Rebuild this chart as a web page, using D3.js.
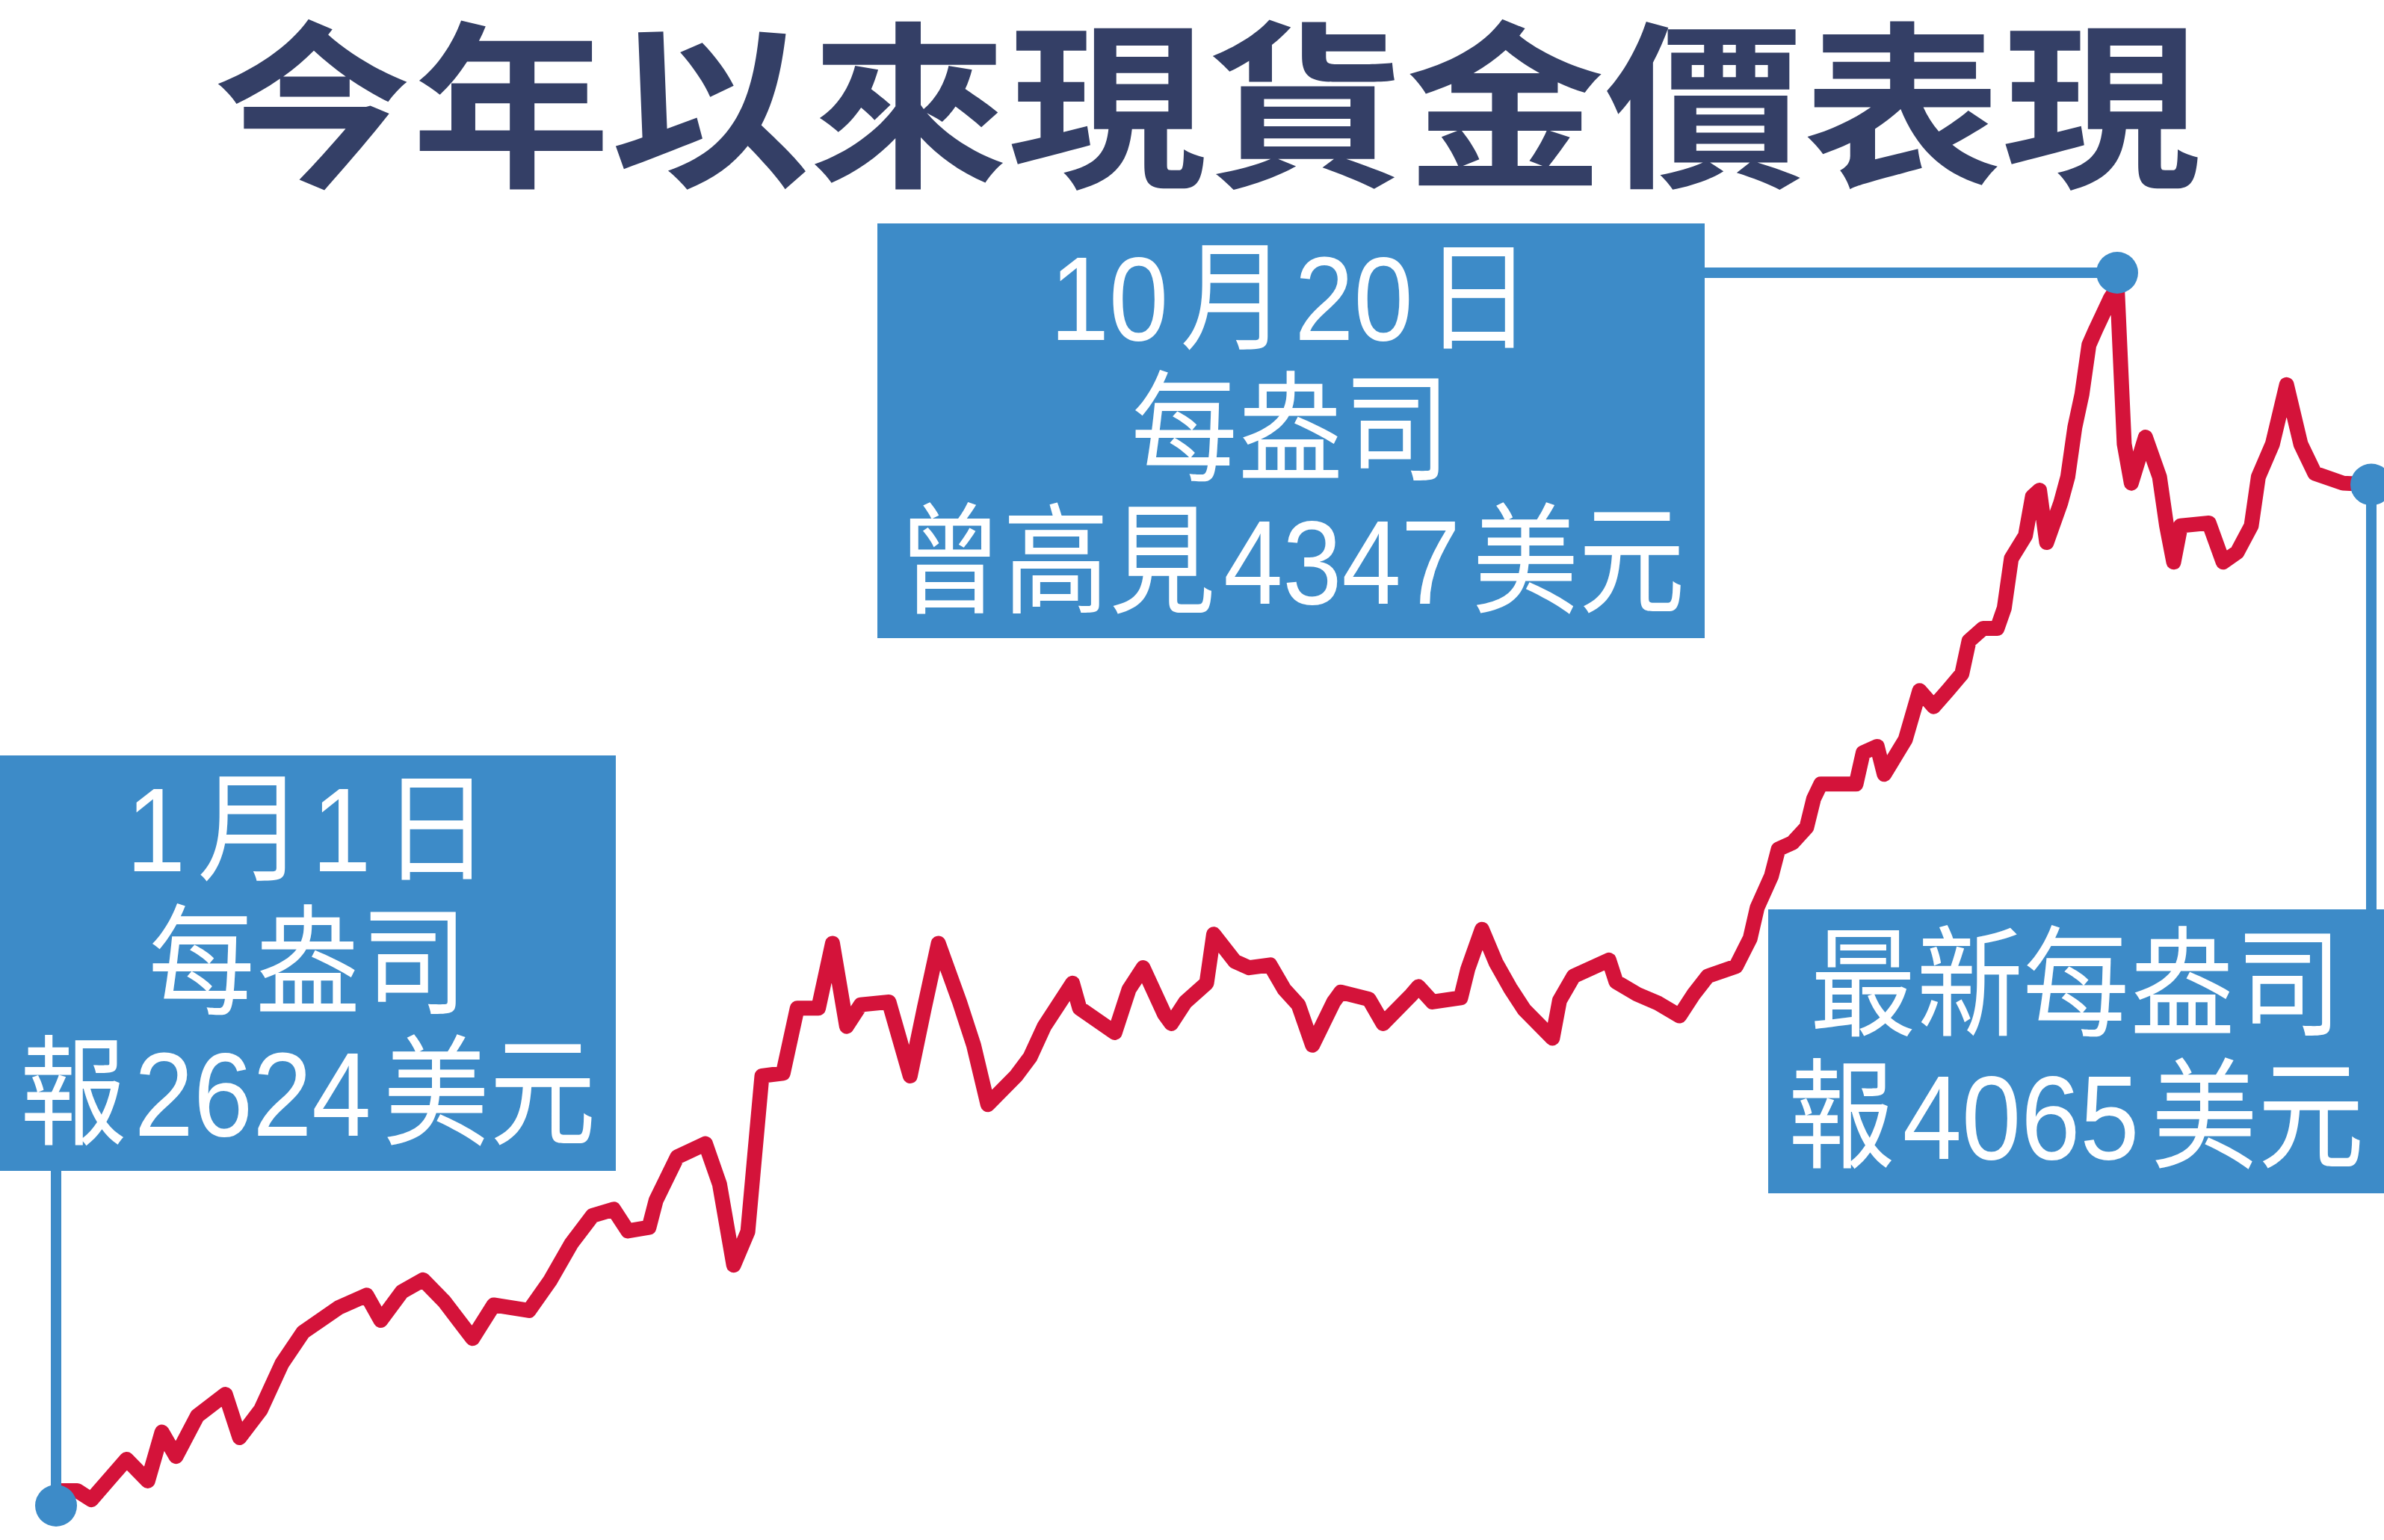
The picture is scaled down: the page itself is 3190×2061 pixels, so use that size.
<!DOCTYPE html>
<html>
<head>
<meta charset="utf-8">
<script src="https://cdn.jsdelivr.net/npm/d3@7"></script>
<style>
  html, body { margin: 0; padding: 0; background: #fff; }
  svg { display: block; }
</style>
</head>
<body>
<svg id="canvas"></svg>
<script>
// spot gold this year, US$ per ounce
let year = 2025;
let dates = [
  '01-01','01-04','01-06','01-09','01-11','01-14','01-16','01-18','01-21','01-25','01-27','01-30',
  '02-02','02-05','02-10','02-14','02-16','02-19','02-22','02-25',
  '03-01','03-04','03-09','03-12','03-15','03-18','03-21','03-23','03-26','03-27','03-30',
  '04-03','04-05','04-07','04-09','04-10','04-11','04-14','04-16','04-19','04-21','04-23','04-25','04-29',
  '05-02','05-04','05-06','05-09','05-11','05-13','05-17','05-19','05-21','05-25','05-26','05-31',
  '06-02','06-04','06-07','06-08','06-10','06-13','06-14','06-17','06-19','06-22','06-24','06-26','06-28',
  '07-01','07-02','07-06','07-08','07-12','07-13','07-15','07-19','07-20','07-22','07-24','07-26','07-28',
  '08-01','08-02','08-04','08-09','08-10','08-13','08-16','08-19','08-21','08-23','08-27','08-29','08-30',
  '09-01','09-02','09-04','09-06','09-07','09-08','09-13','09-14','09-16','09-17','09-20','09-22','09-24','09-26','09-28','09-29',
  '10-01','10-03','10-04','10-05','10-07','10-08','10-09','10-10','10-12','10-13','10-14','10-15','10-16','10-17','10-19','10-20',
  '10-21','10-22','10-24','10-26','10-27','10-28','10-29',
  '11-02','11-04','11-06','11-08','11-09','11-11','11-13','11-15','11-17','11-21','11-25'
];
let prices = [
  2624,2624,2611,2646,2669,2638,2708,2673,2731,2762,2700,2740,
  2806,2851,2886,2904,2868,2909,2926,2895,
  2842,2890,2882,2925,2978,3018,3027,2996,3001,3040,3102,
  3121,3063,2947,2995,3107,3218,3222,3315,3315,3408,3289,3320,3324,
  3218,3315,3408,3324,3262,3177,3218,3245,3289,3351,3315,3280,
  3342,3373,3307,3293,3324,3351,3421,3382,3373,3377,3342,3320,3262,
  3324,3338,3328,3293,3334,3346,3324,3330,3371,3428,3380,3344,3313,
  3272,3326,3361,3384,3353,3335,3322,3304,3335,3361,3375,3415,3459,
  3504,3543,3552,3574,3615,3636,3636,3681,3690,3650,3700,3770,3747,3770,3794,3841,
  3859,3859,3888,3959,3992,4048,4057,3982,4039,4076,4147,4194,4265,4288,4331,4347,
  4123,4067,4133,4076,4006,3954,4006,
  4010,3954,3968,4006,4076,4123,4208,4123,4081,4067,4065
];

let title = '今年以來現貨金價表現';

// the three call-outs: which point they mark and what they say
let calloutDates = ['01-01', '10-20', '11-25'];
let calloutText = [
  ['1月1日', '每盎司', '報2624美元'],
  ['10月20日', '每盎司', '曾高見4347美元'],
  ['最新每盎司', '報4065美元']
];

// page layout
let W = 3190, H = 2061;
let blue = '#3d8bc8';
let red = '#d4133a';
let navy = '#343f66';
let cjkFont = '"Noto Sans CJK TC", "Noto Sans CJK SC", sans-serif';
let numFont = '"Liberation Sans", Arial, sans-serif';

let boxes = [
  { x: 0,    y: 1011, w: 824,  h: 556, cx: 412,  base: [1166, 1345, 1520], leader: 'down' },
  { x: 1174, y: 299,  w: 1107, h: 555, cx: 1727, base: [455, 631, 808],    leader: 'right' },
  { x: 2366, y: 1217, w: 824,  h: 380, cx: 2778, base: [1374, 1551],       leader: 'up' }
];
let dotNudge = [20, -20, 0];

let parse = d3.timeParse('%Y-%m-%d');
let series = dates.map((d, i) => ({ date: parse(year + '-' + d), price: prices[i] }));

let canvas = d3.select('#canvas').attr('width', W).attr('height', H);

let x = d3.scaleTime()
  .domain([parse(year + '-01-01'), parse(year + '-11-25')])
  .range([75, 3173]);
let y = d3.scaleLinear()
  .domain([2624, 4347])
  .range([1995, 385]);

// title, a touch flatter than the stock face
canvas.append('text')
  .attr('transform', 'translate(1615,232) scale(1,0.9)')
  .attr('text-anchor', 'middle')
  .attr('font-family', cjkFont)
  .attr('font-weight', 700)
  .attr('font-size', 266)
  .attr('fill', navy)
  .text(title);

// price line
let line = d3.line()
  .x(d => x(d.date))
  .y(d => y(d.price));

canvas.append('path')
  .datum(series)
  .attr('d', line)
  .attr('fill', 'none')
  .attr('stroke', red)
  .attr('stroke-width', 20)
  .attr('stroke-linejoin', 'round')
  .attr('stroke-linecap', 'round');

// one line of label text, digits set in a latin face, squeezed like the print
let addLine = (g, str, cx, baseline) => {
  let t = g.append('text')
    .attr('transform', `translate(${cx},${baseline}) scale(0.89,1)`)
    .attr('text-anchor', 'middle')
    .attr('font-size', 160)
    .attr('fill', '#fff');
  let runs = str.match(/[0-9]+|[^0-9]+/g);
  runs.forEach((r, i) => {
    let isNum = /[0-9]/.test(r);
    t.append('tspan')
      .attr('font-family', isNum ? numFont : cjkFont)
      .attr('dx', i === 0 ? 0 : (isNum ? 12 : 18))
      .text(r);
  });
};

calloutDates.forEach((d, i) => {
  let b = boxes[i];
  let pt = series.find(s => s.date.getTime() === parse(year + '-' + d).getTime());
  let px = x(pt.date);
  let py = y(pt.price) + dotNudge[i];
  let g = canvas.append('g').attr('class', 'callout');

  // leader line from box to point
  let l = g.append('line')
    .attr('stroke', blue)
    .attr('stroke-width', 14);
  if (b.leader === 'down') {
    l.attr('x1', px).attr('x2', px).attr('y1', b.y + b.h - 2).attr('y2', py);
  } else if (b.leader === 'right') {
    l.attr('x1', b.x + b.w - 2).attr('x2', px).attr('y1', py).attr('y2', py);
  } else {
    l.attr('x1', px).attr('x2', px).attr('y1', py).attr('y2', b.y + 2);
  }

  g.append('rect')
    .attr('x', b.x).attr('y', b.y)
    .attr('width', b.w).attr('height', b.h)
    .attr('fill', blue);

  calloutText[i].forEach((s, k) => addLine(g, s, b.cx, b.base[k]));

  g.append('circle')
    .attr('cx', px)
    .attr('cy', py)
    .attr('r', 28)
    .attr('fill', blue);
});
</script>
</body>
</html>
